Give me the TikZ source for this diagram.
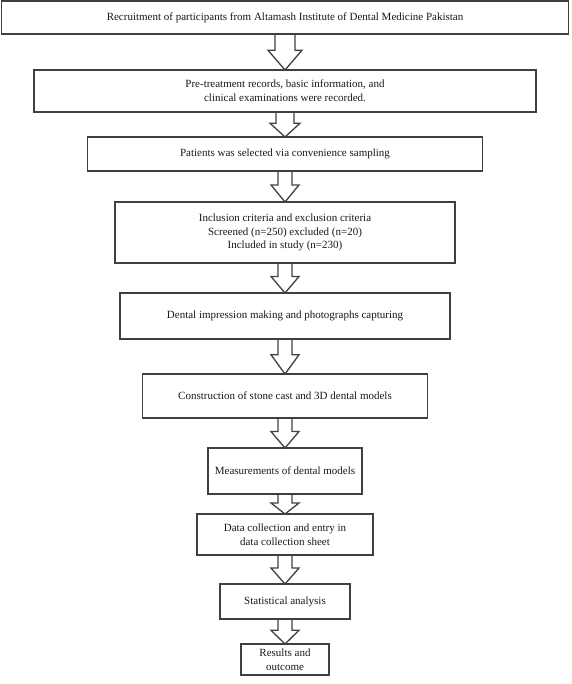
\documentclass[tikz,border=0pt]{standalone}
\usepackage{fontspec}
\setmainfont{Liberation Serif}
\usetikzlibrary{positioning,calc}

% hollow block arrow from one box to the next
\newcommand{\blockarrow}[4]{%
  \draw[flowarrow] let \p1=(#1.south), \p2=(#2.north), \n1={0.55*\y1+0.45*\y2} in
    (\x1-#3,\y1) -- (\x1-#3,\n1) -- (\x1-#4,\n1) -- (\x2,\y2)
    -- (\x1+#4,\n1) -- (\x1+#3,\n1) -- (\x1+#3,\y1);
}

\begin{document}
\begin{tikzpicture}[
  x=1pt, y=1pt,
  box/.style={draw=black!75, line width=1.3pt, fill=white, outer sep=0pt,
    inner sep=2pt, align=center, text=black!90,
    font=\fontsize{11}{13.8}\selectfont},
  flowarrow/.style={draw=black!75, line width=1.3pt, line join=miter}
]
\useasboundingbox (0,0) rectangle (571,-684);

\node[box, minimum width=567pt, minimum height=33pt] (recruit) at (285,-17.5)
  {Recruitment of participants from Altamash Institute of Dental Medicine Pakistan};
\node[box, minimum width=502pt, minimum height=42pt, below=36pt of recruit] (records)
  {Pre-treatment records, basic information, and\\ clinical examinations were recorded.};
\node[box, minimum width=395pt, minimum height=34pt, below=25pt of records] (sampling)
  {Patients was selected via convenience sampling};
\node[box, minimum width=340pt, minimum height=61pt, below=31pt of sampling] (criteria)
  {Inclusion criteria and exclusion criteria\\ Screened (n=250) excluded (n=20)\\ Included in study (n=230)};
\node[box, minimum width=330pt, minimum height=46pt, below=30pt of criteria] (impression)
  {Dental impression making and photographs capturing};
\node[box, minimum width=285pt, minimum height=44pt, below=35pt of impression] (cast)
  {Construction of stone cast and 3D dental models};
\node[box, minimum width=154pt, minimum height=46pt, below=30pt of cast] (measure)
  {Measurements of dental models};
\node[box, minimum width=176pt, minimum height=41pt, below=20pt of measure] (datasheet)
  {Data collection and entry in\\ data collection sheet};
\node[box, minimum width=130pt, minimum height=35pt, below=29pt of datasheet] (stats)
  {Statistical analysis};
\node[box, minimum width=88pt, minimum height=31pt, below=25pt of stats] (results)
  {Results and\\ outcome};

\blockarrow{recruit}{records}{10pt}{17pt}
\blockarrow{records}{sampling}{9pt}{15pt}
\blockarrow{sampling}{criteria}{7pt}{14pt}
\blockarrow{criteria}{impression}{7pt}{14pt}
\blockarrow{impression}{cast}{7pt}{14pt}
\blockarrow{cast}{measure}{7pt}{14pt}
\blockarrow{measure}{datasheet}{7pt}{14pt}
\blockarrow{datasheet}{stats}{7pt}{14pt}
\blockarrow{stats}{results}{7pt}{14pt}
\end{tikzpicture}
\end{document}
